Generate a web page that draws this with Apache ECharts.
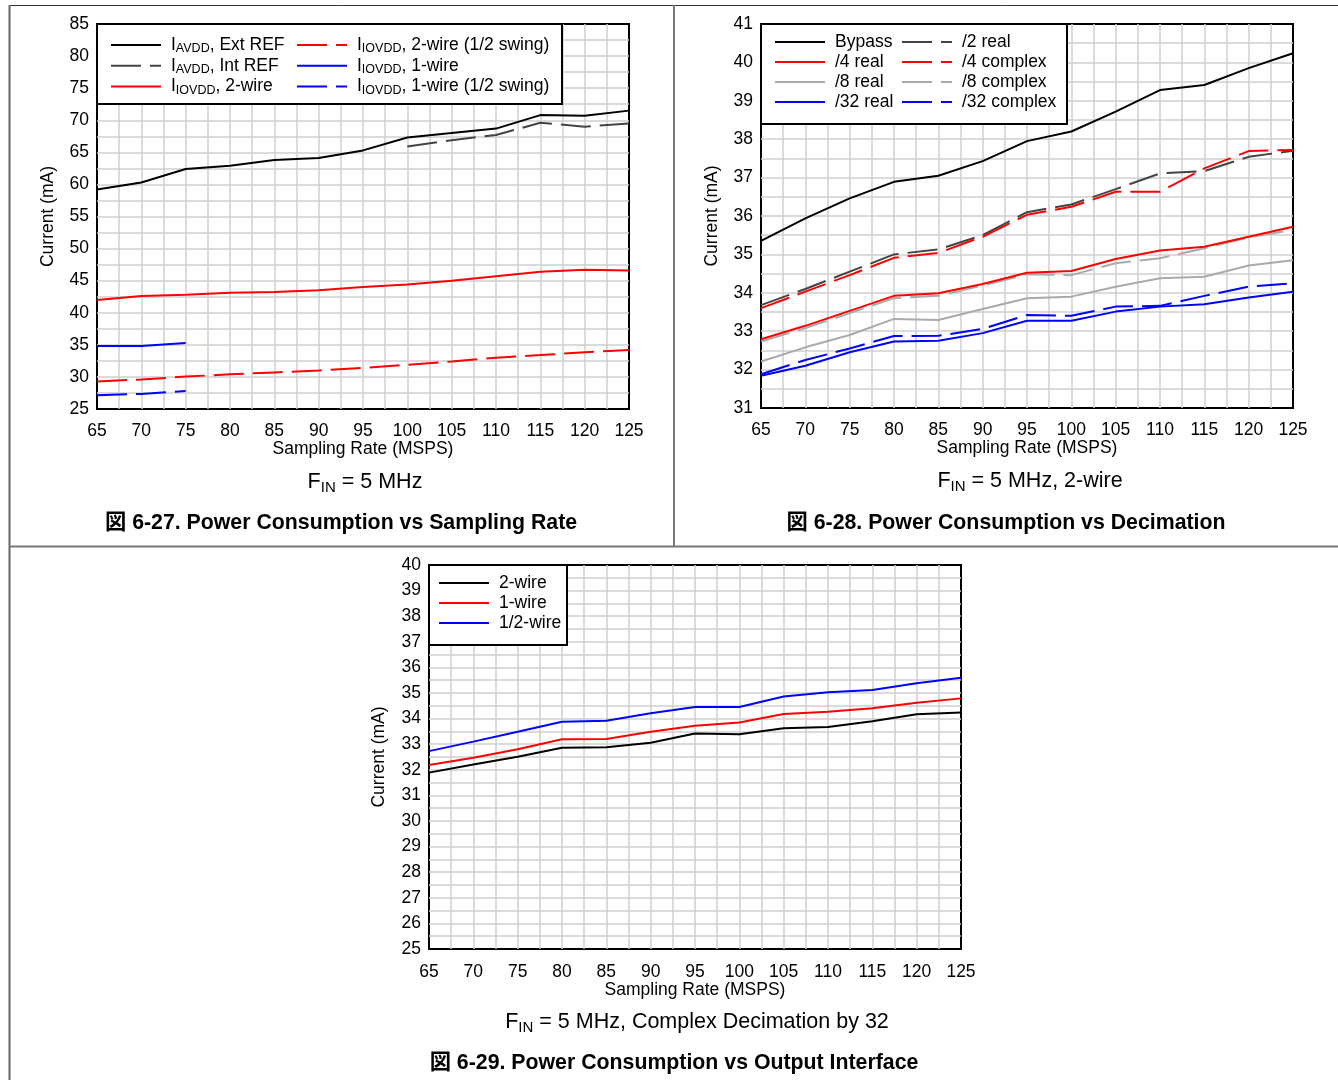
<!DOCTYPE html>
<html>
<head>
<meta charset="utf-8">
<script src="https://cdn.jsdelivr.net/npm/echarts@6/dist/echarts.min.js"></script>
<style>
html,body{margin:0;padding:0;background:#fff;}
#chart{width:1338px;height:1080px;}
</style>
</head>
<body>
<div id="chart"></div>
<script>
// ---------- DATA ----------
const xRates = [65, 70, 75, 80, 85, 90, 95, 100, 105, 110, 115, 120, 125];
const xRatesHigh = [100, 105, 110, 115, 120, 125];
const xRatesLow = [65, 70, 75];

// Figure 6-27
const avddExtRef = [59.2, 60.3, 62.4, 62.9, 63.8, 64.1, 65.3, 67.3, 68.0, 68.7, 70.8, 70.7, 71.5];
const avddIntRef = [65.9, 66.9, 67.7, 69.6, 69.0, 69.5];
const iovdd2wire = [42.0, 42.6, 42.8, 43.1, 43.25, 43.5, 44.0, 44.4, 45.0, 45.7, 46.4, 46.7, 46.6];
const iovdd2wireHalf = [29.3, 29.6, 30.05, 30.4, 30.7, 31.0, 31.4, 31.9, 32.4, 33.0, 33.4, 33.85, 34.2];
const iovdd1wire = [34.8, 34.8, 35.3];
const iovdd1wireHalf = [27.15, 27.35, 27.8];

// Figure 6-28
const bypass = [35.35, 35.94, 36.46, 36.89, 37.05, 37.43, 37.95, 38.2, 38.72, 39.28, 39.41, 39.85, 40.24];
const div2real = [33.68, 34.1, 34.55, 35.0, 35.13, 35.5, 36.1, 36.3, 36.7, 37.11, 37.17, 37.54, 37.7];
const div4real = [32.79, 33.14, 33.53, 33.92, 33.99, 34.23, 34.52, 34.57, 34.88, 35.1, 35.2, 35.46, 35.72];
const div4complex = [33.6, 34.03, 34.46, 34.91, 35.04, 35.46, 36.03, 36.24, 36.63, 36.63, 37.24, 37.69, 37.72];
const div8real = [32.21, 32.58, 32.9, 33.32, 33.29, 33.58, 33.86, 33.9, 34.16, 34.38, 34.42, 34.71, 34.85];
const div8complex = [32.73, 33.08, 33.47, 33.86, 33.92, 34.19, 34.48, 34.46, 34.77, 34.9, 35.16, 35.44, 35.64];
const div32real = [31.84, 32.1, 32.45, 32.73, 32.75, 32.95, 33.27, 33.27, 33.51, 33.64, 33.7, 33.88, 34.03];
const div32complex = [31.88, 32.25, 32.55, 32.875, 32.88, 33.06, 33.42, 33.4, 33.64, 33.66, 33.92, 34.16, 34.25];

// Figure 6-29
const wire2 = [31.89, 32.21, 32.51, 32.86, 32.88, 33.06, 33.42, 33.39, 33.62, 33.67, 33.9, 34.17, 34.24];
const wire1 = [32.19, 32.47, 32.8, 33.19, 33.2, 33.49, 33.72, 33.85, 34.18, 34.27, 34.4, 34.62, 34.79];
const wireHalf = [32.73, 33.1, 33.49, 33.88, 33.92, 34.21, 34.45, 34.45, 34.86, 35.03, 35.12, 35.38, 35.6];

// ---------- STYLE ----------
const FONT = '"Liberation Sans", Arial, "Noto Sans CJK JP", sans-serif';
const GRIDC = '#cfcfcf';
const DASH = [30, 9];
const BLACK = '#000000', DGRAY = '#444444', RED = '#ff0000', BLUE = '#0000ff', LGRAY = '#aaaaaa';

function pairs(xs, ys) { return ys.map((v, i) => [xs[i], v]); }

function xAxisCfg(gi, nameGap, margin) {
  return {
    gridIndex: gi, type: 'value', min: 65, max: 125, interval: 5,
    name: 'Sampling Rate (MSPS)', nameLocation: 'middle', nameGap: nameGap,
    nameTextStyle: { fontFamily: FONT, fontSize: 17.5, color: '#000' },
    axisLine: { show: false }, axisTick: { show: false },
    axisLabel: { fontFamily: FONT, fontSize: 17.5, color: '#000', margin: margin },
    splitLine: { show: true, showMinLine: false, showMaxLine: false, lineStyle: { color: GRIDC, width: 1.5 } },
    minorTick: { show: false, splitNumber: 2 },
    minorSplitLine: { show: true, lineStyle: { color: GRIDC, width: 1.5 } }
  };
}
function yAxisCfg(gi, min, max, interval, nameGap) {
  return {
    gridIndex: gi, type: 'value', min: min, max: max, interval: interval,
    name: 'Current (mA)', nameLocation: 'middle', nameGap: nameGap,
    nameTextStyle: { fontFamily: FONT, fontSize: 17.5, color: '#000' },
    axisLine: { show: false }, axisTick: { show: false },
    axisLabel: { fontFamily: FONT, fontSize: 17.5, color: '#000', margin: 8 },
    splitLine: { show: true, showMinLine: false, showMaxLine: false, lineStyle: { color: GRIDC, width: 1.5 } },
    minorTick: { show: false, splitNumber: 2 },
    minorSplitLine: { show: true, lineStyle: { color: GRIDC, width: 1.5 } }
  };
}
function line(name, gi, xs, ys, color, dashed) {
  return {
    name: name, type: 'line', xAxisIndex: gi, yAxisIndex: gi,
    data: pairs(xs, ys), symbol: 'none', animation: false,
    lineStyle: { color: color, width: 2, type: dashed ? DASH : 'solid' },
    itemStyle: { color: color }
  };
}

const legendRich = {
  g: { width: 5 },
  m: { fontFamily: FONT, fontSize: 17.5, color: '#000', lineHeight: 20 },
  s: { fontFamily: FONT, fontSize: 12.5, color: '#000', lineHeight: 13, verticalAlign: 'bottom' }
};
function legendFmt(name) {
  const m = name.match(/^I(AVDD|IOVDD)(.*)$/);
  if (m) return '{g| }{m|I}{s|' + m[1] + '}{m|' + m[2] + '}';
  return '{g| }{m|' + name + '}';
}
function legendCfg(names, left, top, gap) {
  return {
    data: names, left: left, top: top, orient: 'vertical', padding: 0,
    itemWidth: 50, itemHeight: 14, itemGap: gap, selectedMode: false,
    formatter: legendFmt, z: 6,
    itemStyle: { color: 'rgba(0,0,0,0)', borderWidth: 0, opacity: 0 },
    textStyle: { fontFamily: FONT, fontSize: 17.5, color: '#000', lineHeight: 20, rich: legendRich }
  };
}

const subRich = {
  a: { fontFamily: FONT, fontSize: 21.5, color: '#000', lineHeight: 26 },
  b: { fontFamily: FONT, fontSize: 15, color: '#000', lineHeight: 15, verticalAlign: 'bottom' }
};
function subText(x, y, rest) {
  return { type: 'text', x: x, y: y, z: 10,
    style: { text: '{a|F}{b|IN}{a|' + rest + '}', rich: subRich, align: 'center', verticalAlign: 'middle' } };
}
function caption(x, y, t) {
  return { type: 'text', x: x, y: y, z: 10,
    style: { text: t, fontFamily: FONT, fontSize: 21.3, fontWeight: 'bold', fill: '#000', align: 'center', verticalAlign: 'middle' } };
}
function box(x, y, w, h) {
  return { type: 'rect', z: 5, shape: { x: x, y: y, width: w, height: h },
    style: { fill: '#fff', stroke: '#000', lineWidth: 2 } };
}
function seg(x1, y1, x2, y2, color, w) {
  return { type: 'line', z: 10, shape: { x1: x1, y1: y1, x2: x2, y2: y2 }, style: { stroke: color, lineWidth: w } };
}

const gridStyle = { show: true, borderColor: '#000', borderWidth: 2, backgroundColor: '#fff' };

const option = {
  animation: false,
  backgroundColor: '#fff',
  grid: [
    Object.assign({ left: 97, top: 24, width: 532, height: 385 }, gridStyle),
    Object.assign({ left: 761, top: 24, width: 532, height: 384 }, gridStyle),
    Object.assign({ left: 429, top: 565, width: 532, height: 384 }, gridStyle)
  ],
  xAxis: [xAxisCfg(0, 30, 13), xAxisCfg(1, 30, 13), xAxisCfg(2, 31, 14)],
  yAxis: [yAxisCfg(0, 25, 85, 5, 40), yAxisCfg(1, 31, 41, 1, 40), yAxisCfg(2, 25, 40, 1, 41)],
  legend: [
    legendCfg(['IAVDD, Ext REF', 'IAVDD, Int REF', 'IIOVDD, 2-wire'], 110, 35, 0.7),
    legendCfg(['IIOVDD, 2-wire (1/2 swing)', 'IIOVDD, 1-wire', 'IIOVDD, 1-wire (1/2 swing)'], 296, 35, 0.7),
    legendCfg(['Bypass', '/4 real', '/8 real', '/32 real'], 774, 32, 0),
    legendCfg(['/2 real', '/4 complex', '/8 complex', '/32 complex'], 901, 32, 0),
    legendCfg(['2-wire', '1-wire', '1/2-wire'], 438, 573, 0)
  ],
  series: [
    line('IAVDD, Ext REF', 0, xRates, avddExtRef, BLACK, false),
    line('IAVDD, Int REF', 0, xRatesHigh, avddIntRef, DGRAY, true),
    line('IIOVDD, 2-wire', 0, xRates, iovdd2wire, RED, false),
    line('IIOVDD, 2-wire (1/2 swing)', 0, xRates, iovdd2wireHalf, RED, true),
    line('IIOVDD, 1-wire', 0, xRatesLow, iovdd1wire, BLUE, false),
    line('IIOVDD, 1-wire (1/2 swing)', 0, xRatesLow, iovdd1wireHalf, BLUE, true),

    line('/8 real', 1, xRates, div8real, LGRAY, false),
    line('/8 complex', 1, xRates, div8complex, LGRAY, true),
    line('Bypass', 1, xRates, bypass, BLACK, false),
    line('/2 real', 1, xRates, div2real, DGRAY, true),
    line('/4 real', 1, xRates, div4real, RED, false),
    line('/4 complex', 1, xRates, div4complex, RED, true),
    line('/32 real', 1, xRates, div32real, BLUE, false),
    line('/32 complex', 1, xRates, div32complex, BLUE, true),

    line('2-wire', 2, xRates, wire2, BLACK, false),
    line('1-wire', 2, xRates, wire1, RED, false),
    line('1/2-wire', 2, xRates, wireHalf, BLUE, false)
  ],
  graphic: [
    box(97, 24, 465, 80),
    box(761, 24, 306, 100),
    box(429, 565, 138, 80),
    subText(365, 482, ' = 5 MHz'),
    subText(1030, 481, ' = 5 MHz, 2-wire'),
    subText(697, 1022, ' = 5 MHz, Complex Decimation by 32'),
    caption(341, 523, '図 6-27. Power Consumption vs Sampling Rate'),
    caption(1006, 523, '図 6-28. Power Consumption vs Decimation'),
    caption(674, 1063, '図 6-29. Power Consumption vs Output Interface'),
    seg(9, 5.5, 1338, 5.5, '#333', 1),
    seg(9.5, 5, 9.5, 1080, '#666', 2),
    seg(674, 5, 674, 546, '#777', 2),
    seg(9, 546.5, 1338, 546.5, '#777', 2)
  ]
};

const chart = echarts.init(document.getElementById('chart'), null, { renderer: 'canvas' });
chart.setOption(option);
</script>
</body>
</html>
